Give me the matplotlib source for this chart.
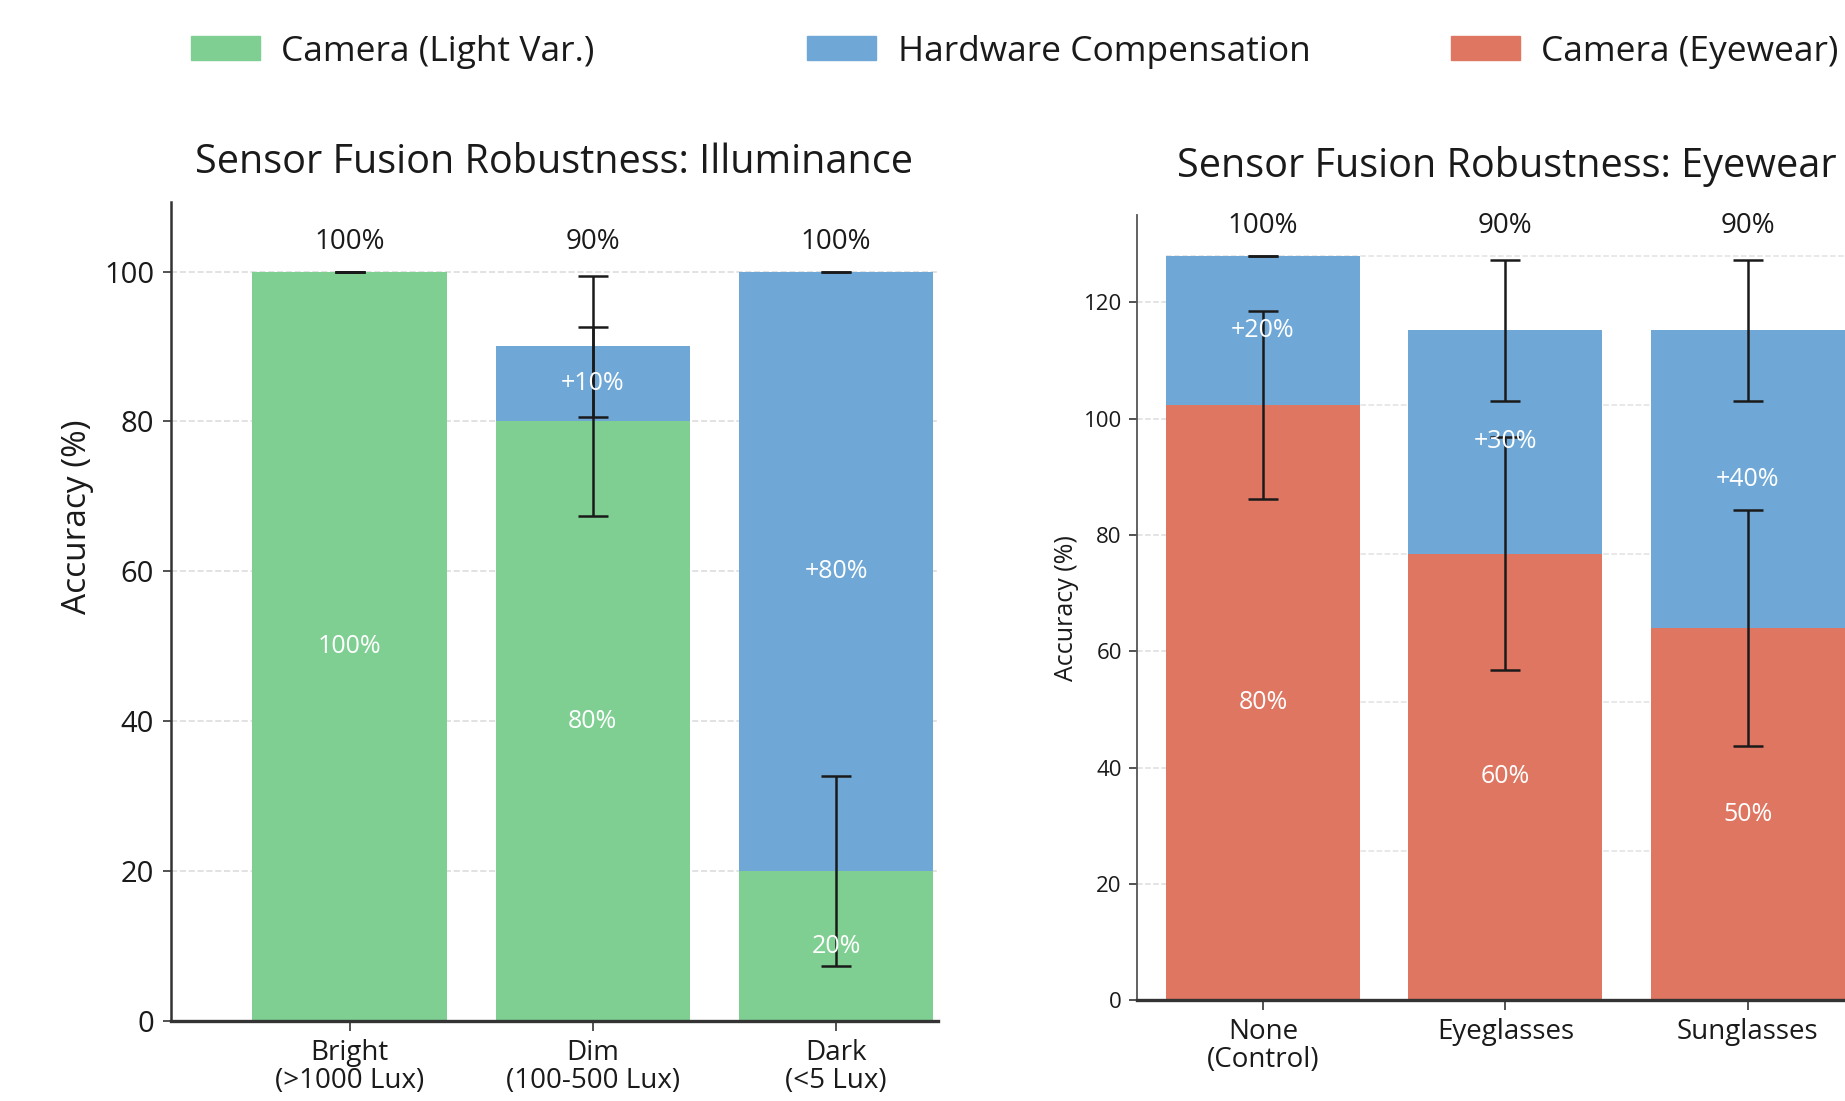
import numpy as np
import matplotlib.pyplot as plt
from matplotlib.patches import Patch

plt.rcParams['font.family'] = ['Open Sans', 'DejaVu Sans']

# --- data ---
illum_labels = ['Bright\n(>1000 Lux)', 'Dim\n(100-500 Lux)', 'Dark\n(<5 Lux)']
illum_camera = [100, 80, 20]
illum_hw = [0, 10, 80]
illum_cam_err = [0, 12.6, 12.7]
illum_total_err = [0, 9.4, 0]

eye_labels = ['None\n(Control)', 'Eyeglasses', 'Sunglasses']
eye_camera = [80, 60, 50]
eye_hw = [20, 30, 40]
eye_cam_err = [12.65, 15.6, 15.8]
eye_total_err = [0, 9.45, 9.45]
eye_scale = 1.28   # the eyewear panel is drawn on a stretched axis

label_y = 104

GREEN = '#7fcf92'
BLUE = '#6fa8d6'
RED = '#df7662'
INK = '#1a1a1a'

fig = plt.figure(figsize=(18.45, 11.01), dpi=100)
ax1 = fig.add_axes([0.0925, 0.0727, 0.416, 0.744])
ax2 = fig.add_axes([0.6163, 0.0916, 0.4005, 0.713])


def style(ax, lw_left, left_color):
    for s in ['top', 'right']:
        ax.spines[s].set_visible(False)
    ax.spines['left'].set_color(left_color)
    ax.spines['left'].set_linewidth(lw_left)
    ax.spines['bottom'].set_color('#333333')
    ax.spines['bottom'].set_linewidth(2.4)
    ax.tick_params(axis='y', length=6, width=1.3, color='#444444', colors=INK)
    ax.tick_params(axis='x', length=7, width=1.3, color='#444444', colors=INK, pad=6)
    ax.set_axisbelow(True)


def draw(ax, cam, hw, cam_err, tot_err, scale, cam_color):
    x = np.arange(len(cam))
    cam_s = np.array(cam) * scale
    hw_s = np.array(hw) * scale
    tot_s = cam_s + hw_s
    err_kw = dict(ecolor=INK, elinewidth=1.8, capsize=11, capthick=1.8, fmt='none', zorder=4)
    ax.bar(x, cam_s, width=0.8, color=cam_color, zorder=2)
    ax.bar(x, hw_s, bottom=cam_s, width=0.8, color=BLUE, zorder=2)
    ax.errorbar(x, cam_s, yerr=np.array(cam_err) * scale, **err_kw)
    ax.errorbar(x, tot_s, yerr=np.array(tot_err) * scale, **err_kw)
    for i in range(len(x)):
        ax.text(x[i], label_y * scale, f'{cam[i] + hw[i]}%', ha='center', va='center',
                fontsize=20, color=INK, zorder=5)
        ax.text(x[i], cam_s[i] / 2, f'{cam[i]}%', ha='center', va='center',
                fontsize=18, color='white', zorder=5)
        if hw[i] > 0:
            ax.text(x[i], cam_s[i] + hw_s[i] / 2, f'+{hw[i]}%', ha='center', va='center',
                    fontsize=18, color='white', zorder=5)
    return x


# --- left: illuminance ---
x1 = draw(ax1, illum_camera, illum_hw, illum_cam_err, illum_total_err, 1.0, GREEN)
style(ax1, 1.8, '#333333')
ax1.set_xlim(-0.736, 2.42)
ax1.set_ylim(0, 109.3)
ax1.set_yticks(np.arange(0, 101, 20))
ax1.set_xticks(x1)
ax1.set_xticklabels(illum_labels, fontsize=20, linespacing=1.0)
ax1.tick_params(axis='y', labelsize=21, pad=6)
ax1.grid(axis='y', color='#dddddd', linestyle='--', linewidth=1.2, zorder=0)
ax1.set_ylabel('Accuracy (%)', fontsize=24, color=INK)
ax1.yaxis.set_label_coords(-0.10, 0.615)
ax1.set_title('Sensor Fusion Robustness: Illuminance', fontsize=28.5, color=INK,
              y=1.038, va='center')

# --- right: eyewear ---
x2 = draw(ax2, eye_camera, eye_hw, eye_cam_err, eye_total_err, eye_scale, RED)
style(ax2, 1.3, '#555555')
ax2.set_xlim(-0.52, 2.53)
ax2.set_ylim(0, 135)
ax2.set_yticks(np.arange(0, 121, 20))
ax2.set_xticks(x2)
ax2.set_xticklabels(eye_labels, fontsize=20, linespacing=1.0)
ax2.tick_params(axis='y', labelsize=16, pad=5)
# short stubs at the tick values, long lines at the stretched 20% steps
ax2.hlines(np.arange(20, 121, 20), -0.52, -0.4, colors='#dddddd', linestyles='--',
           linewidth=1.1, zorder=0)
ax2.hlines(np.arange(20, 101, 20) * eye_scale, -0.4, 2.53, colors='#e2e2e2',
           linestyles='--', linewidth=1.1, zorder=0)
ax2.set_ylabel('Accuracy (%)', fontsize=18, color=INK)
ax2.yaxis.set_label_coords(-0.078, 0.5)
ax2.set_title('Sensor Fusion Robustness: Eyewear', fontsize=28.5, color=INK,
              y=1.051, va='center')

# --- legend: one entry per anchor so the gaps follow the reference ---
entries = [(GREEN, 'Camera (Light Var.)', 0.1033),
           (BLUE, 'Hardware Compensation', 0.4375),
           (RED, 'Camera (Eyewear)', 0.7864)]
for color, label, xa in entries:
    fig.legend(handles=[Patch(color=color, label=label)], loc='center left',
               bbox_to_anchor=(xa, 0.953), frameon=False, fontsize=25.5,
               handlelength=1.95, handleheight=0.66, handletextpad=0.6,
               borderpad=0, borderaxespad=0, labelcolor=INK)

fig.savefig('out.png', dpi=100, facecolor='white')
